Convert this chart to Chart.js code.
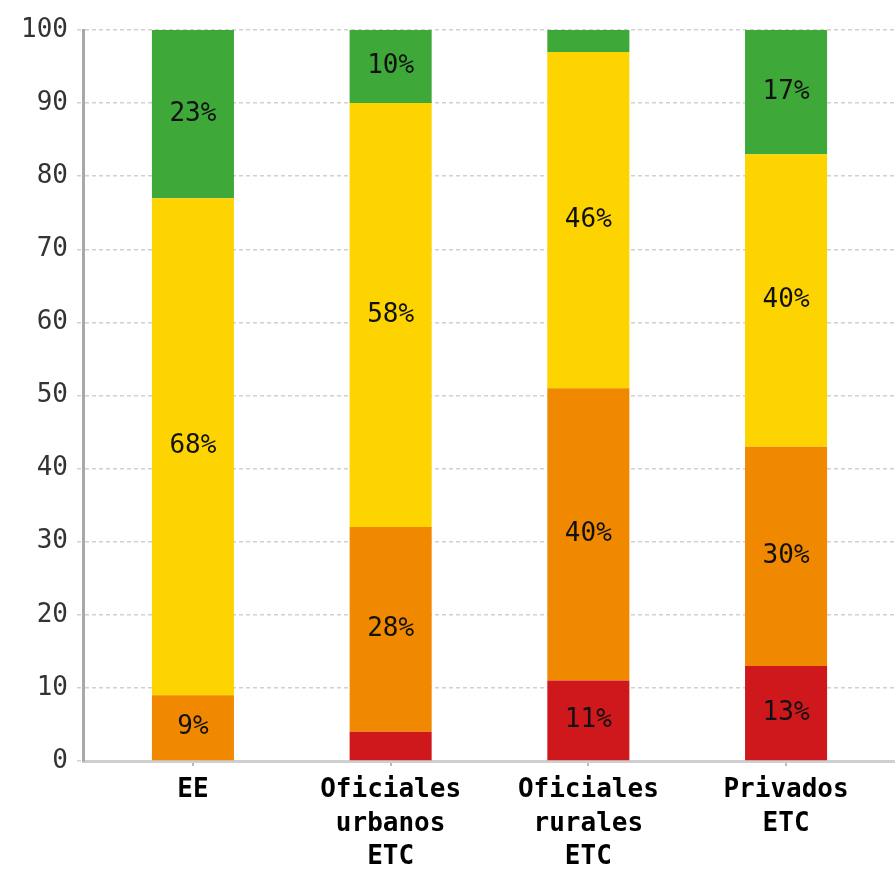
<!DOCTYPE html>
<html>
<head>
<meta charset="utf-8">
<script src="https://cdn.jsdelivr.net/npm/chart.js@4"></script>
<style>
  html, body { margin: 0; padding: 0; background: #fff; }
  #wrap { width: 895px; height: 869px; }
</style>
</head>
<body>
<div id="wrap"><canvas id="chart"></canvas></div>
<script>
// Categories (x axis)
const categories = [
  ['EE'],
  ['Oficiales', 'urbanos', 'ETC'],
  ['Oficiales', 'rurales', 'ETC'],
  ['Privados', 'ETC'],
];

// Series values (%), bottom to top
const rojo = [0, 4, 11, 13];
const naranja = [9, 28, 40, 30];
const amarillo = [68, 58, 46, 40];
const verde = [23, 10, 3, 17];

// Y axis ticks
const yTicks = [0, 10, 20, 30, 40, 50, 60, 70, 80, 90, 100];

const FONT = "'DejaVu Sans Mono', monospace";

const toPoints = (values) => values.map((v, i) => ({ x: i, y: v }));

// Draw percentage labels in the middle of each segment
const segmentLabels = {
  id: 'segmentLabels',
  afterDatasetsDraw(chart) {
    const { ctx } = chart;
    ctx.save();
    ctx.font = `26px ${FONT}`;
    ctx.fillStyle = '#111';
    ctx.textAlign = 'center';
    ctx.textBaseline = 'middle';
    chart.data.datasets.forEach((ds, di) => {
      const meta = chart.getDatasetMeta(di);
      meta.data.forEach((bar, i) => {
        const v = ds.data[i].y;
        if (v < 5) return;
        ctx.fillText(`${v}%`, bar.x, (bar.y + bar.base) / 2);
      });
    });
    ctx.restore();
  },
};

const makeSet = (label, values, color) => ({
  label,
  data: toPoints(values),
  backgroundColor: color,
  borderWidth: 0,
  barPercentage: 0.415,
  categoryPercentage: 1,
});

new Chart(document.getElementById('chart'), {
  type: 'bar',
  data: {
    datasets: [
      makeSet('Rojo', rojo, '#cf181c'),
      makeSet('Naranja', naranja, '#f08800'),
      makeSet('Amarillo', amarillo, '#fdd300'),
      makeSet('Verde', verde, '#3ea838'),
    ],
  },
  options: {
    responsive: true,
    maintainAspectRatio: false,
    animation: false,
    layout: { padding: { top: 30, right: 0, bottom: 0, left: 0 } },
    plugins: {
      legend: { display: false },
      tooltip: { enabled: false },
    },
    scales: {
      x: {
        type: 'linear',
        stacked: true,
        offset: false,
        min: -0.556,
        max: 3.551,
        afterBuildTicks: (scale) => {
          scale.ticks = categories.map((_, i) => ({ value: i }));
        },
        afterFit: (scale) => {
          scale.height = 108;
        },
        ticks: {
          autoSkip: false,
          maxRotation: 0,
          padding: 8,
          color: '#000',
          font: { family: FONT, size: 26, weight: 'bold', lineHeight: 1.28 },
          callback: (v) => categories[v],
        },
        grid: {
          offset: false,
          drawOnChartArea: false,
          drawTicks: true,
          tickLength: 5,
          color: '#bbb',
          lineWidth: 2,
        },
        border: { display: true, color: '#cfcfcf', width: 3 },
      },
      y: {
        stacked: true,
        min: 0,
        max: 100,
        afterBuildTicks: (scale) => {
          scale.ticks = yTicks.map((v) => ({ value: v }));
        },
        afterFit: (scale) => {
          scale.width = 83;
        },
        ticks: {
          padding: 9,
          color: '#333',
          font: { family: FONT, size: 26 },
        },
        grid: {
          color: '#d0d0d0',
          lineWidth: 1.5,
          tickLength: 6,
          tickBorderDash: [4, 3],
        },
        border: { display: true, color: '#a8a8a8', width: 3, dash: [4, 3] },
      },
    },
  },
  plugins: [segmentLabels],
});
</script>
</body>
</html>
